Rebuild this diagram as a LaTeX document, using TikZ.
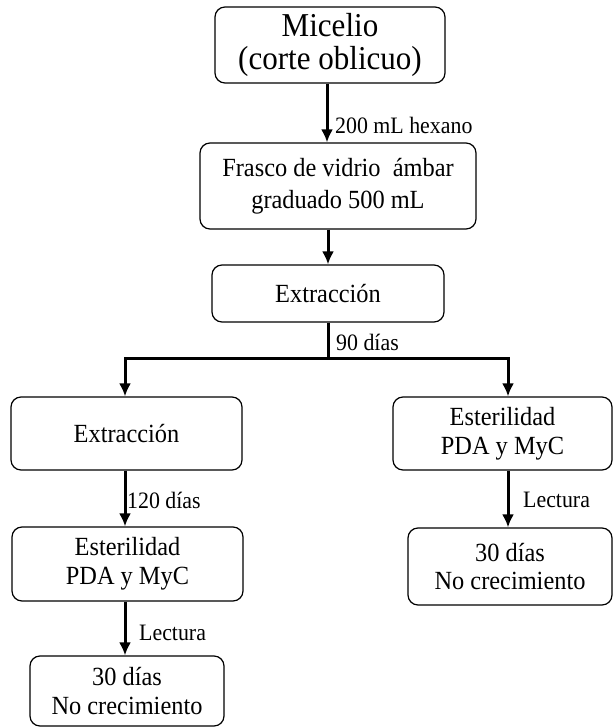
\documentclass[tikz,border=0pt]{standalone}
\usepackage{fontspec}
\setmainfont{Liberation Serif}[FakeStretch=0.93]
\usetikzlibrary{arrows.meta,positioning}

\begin{document}
\begin{tikzpicture}[x=1bp,y=-1bp,
    caja/.style={draw,rounded corners=10bp,line width=1.2bp,align=center,inner sep=0pt,
      font=\fontsize{26.3}{29}\selectfont},
    flecha/.style={line width=3bp,-{Latex[length=13bp,width=12bp]}},
    linea/.style={line width=3bp},
    etiq/.style={anchor=west,inner sep=0pt,font=\fontsize{23.6}{26}\selectfont}]

  \useasboundingbox (0,0) rectangle (613,727);

  % columnas de las flechas
  \coordinate (colc) at (327,0);
  \coordinate (colc2) at (328,0);
  \coordinate (coli) at (125,0);
  \coordinate (cold) at (508,0);
  \coordinate (bus) at (0,358);

  \node[caja,minimum width=230bp,minimum height=76bp,font=\fontsize{33.5}{33}\selectfont] (micelio) at (330,45) {Micelio\\(corte oblicuo)};
  \node[caja,minimum width=276bp,minimum height=86bp,font=\fontsize{26.3}{32}\selectfont] (frasco) at (338,186) {Frasco de vidrio\ \ ámbar\\graduado 500 mL};
  \node[caja,minimum width=232bp,minimum height=57bp] (extr) at (328,293.5) {Extracción};

  \node[caja,minimum width=231bp,minimum height=73bp] (extrizq) at (126.5,433.5) {Extracción};
  \node[caja,minimum width=231bp,minimum height=74bp] (esterizq) at (127.5,564) {Esterilidad\\PDA y MyC};
  \node[caja,minimum width=194bp,minimum height=70bp] (finizq) at (127,691) {30 días\\No crecimiento};

  \node[caja,minimum width=219bp,minimum height=73bp] (esterder) at (502.5,433.5) {Esterilidad\\PDA y MyC};
  \node[caja,minimum width=204bp,minimum height=77bp] (finder) at (510,566.5) {30 días\\No crecimiento};

  \draw[flecha] (micelio.south -| colc) -- (frasco.north -| colc);
  \draw[flecha] (frasco.south -| colc2) -- (extr.north -| colc2);
  \draw[flecha] (extr.south -| colc2) -- (bus -| colc2) -| (extrizq.north -| coli);
  \draw[flecha] (extr.south -| colc2) -- (bus -| colc2) -| (esterder.north -| cold);
  \draw[flecha] (extrizq.south -| coli) -- (esterizq.north -| coli);
  \draw[flecha] (esterizq.south -| coli) -- (finizq.north -| coli);
  \draw[flecha] (esterder.south -| cold) -- (finder.north -| cold);

  \node[etiq] (l200) at (335,125) {200 mL hexano};
  \node[etiq] (l90) at (336,342) {90 días};
  \node[etiq] (l120) at (127,500) {120 días};
  \node[etiq] (lectizq) at (139,633) {Lectura};
  \node[etiq] (lectder) at (523,500) {Lectura};

\end{tikzpicture}
\end{document}
